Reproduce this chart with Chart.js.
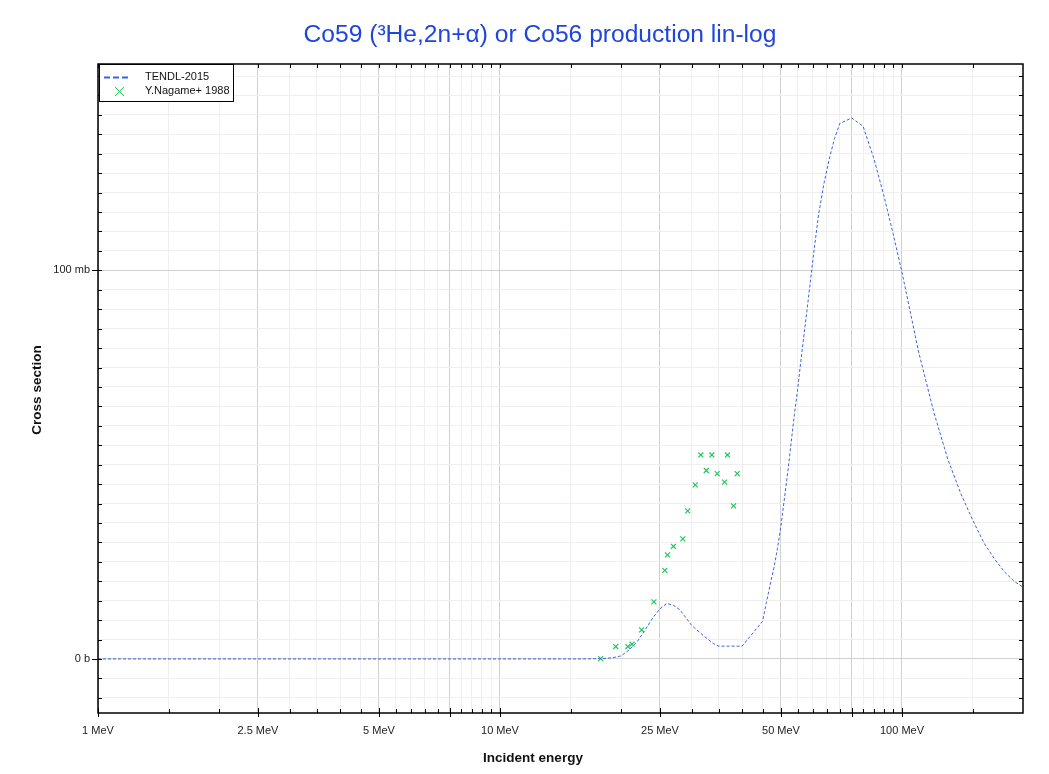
<!DOCTYPE html>
<html>
<head>
<meta charset="utf-8">
<script src="https://cdn.jsdelivr.net/npm/chart.js@4.4.0/dist/chart.umd.min.js"></script>
<style>
  body { margin: 0; background: #fff; }
  #wrap { width: 1049px; height: 774px; position: relative; }
</style>
</head>
<body>
<div id="wrap"><canvas id="xsChart"></canvas></div>
<script>
// TENDL-2015 evaluation (MeV, mb)
var tendlE = [1, 16, 18, 19, 20, 21, 22, 23, 24, 25, 26, 27, 28, 30, 32, 34, 35, 40,
  45, 46, 47, 48, 49, 50, 52, 54, 55, 56, 58, 60, 62, 64, 65, 66, 68, 70, 75, 80,
  85, 90, 95, 100, 110, 120, 130, 140, 150, 160, 170, 180, 190, 200];
var tendlXs = [0, 0, 0.1, 0.3, 0.8, 2.4, 4.6, 7.6, 10.6, 12.9, 14.3, 13.8, 12.7, 8.6, 6.1, 3.9, 3.3, 3.3,
  9.7, 14.6, 19.1, 23.4, 28.4, 34.3, 48.2, 63.0, 69.3, 76.5, 89.5, 102.5, 114.3, 122.5, 125.7, 128.9, 134.0, 137.8, 139.2, 137.1,
  129.0, 119.5, 109.5, 99.5, 79.0, 63.5, 51.4, 42.6, 35.7, 29.8, 25.7, 22.4, 20.0, 18.5];

// Y.Nagame+ 1988 measurements (MeV, mb)
var nagameE = [17.8, 19.4, 20.8, 21.3, 22.5, 24.15, 25.7, 26.1, 27.0, 28.5,
  29.3, 30.6, 31.6, 32.6, 33.65, 34.7, 36.2, 36.8, 38.1, 38.9];
var nagameXs = [0.1, 3.2, 3.2, 3.8, 7.5, 14.7, 22.8, 26.8, 29.0, 30.9,
  38.1, 44.8, 52.5, 48.5, 52.5, 47.7, 45.5, 52.5, 39.4, 47.7];

var xTickValues = [1, 1.5, 2, 2.5, 3, 3.5, 4, 4.5, 5, 5.5, 6, 6.5, 7, 7.5, 8, 8.5, 9, 9.5,
  10, 15, 20, 25, 30, 35, 40, 45, 50, 55, 60, 65, 70, 75, 80, 85, 90, 95, 100, 150];
var xMajor = [1, 2.5, 5, 7.5, 10, 25, 50, 75, 100];
var xLabels = { "1": "1 MeV", "2.5": "2.5 MeV", "5": "5 MeV", "10": "10 MeV",
  "25": "25 MeV", "50": "50 MeV", "100": "100 MeV" };

var yTickValues = [-10, -5, 0, 5, 10, 15, 20, 25, 30, 35, 40, 45, 50, 55, 60, 65, 70, 75,
  80, 85, 90, 95, 100, 105, 110, 115, 120, 125, 130, 135, 140, 145, 150];
var yMajor = [0, 100];
var yLabels = { "0": "0 b", "100": "100 mb" };

var lineColor = "#3b63e0";
var markColor = "#1fc85a";

function isIn(list, v) {
  return list.some(function (m) { return Math.abs(m - v) < 1e-6; });
}

var framePlugin = {
  id: "frame",
  afterDraw: function (chart) {
    var c = chart.ctx, a = chart.chartArea;
    var xs = chart.scales.x, ys = chart.scales.y;
    c.save();
    // ticks
    c.strokeStyle = "#000";
    c.lineWidth = 1;
    c.beginPath();
    xTickValues.forEach(function (v) {
      var px = Math.round(xs.getPixelForValue(v)) + 0.5;
      var maj = isIn(xMajor, v);
      c.moveTo(px, a.bottom + (maj ? 4 : 0));
      c.lineTo(px, a.bottom - (maj ? 5 : 4));
      c.moveTo(px, a.top);
      c.lineTo(px, a.top + 4);
    });
    yTickValues.forEach(function (v) {
      var py = Math.round(ys.getPixelForValue(v)) + 0.5;
      var maj = isIn(yMajor, v);
      c.moveTo(a.left - (maj ? 6 : 0), py);
      c.lineTo(a.left + 4, py);
      c.moveTo(a.right - 4, py);
      c.lineTo(a.right, py);
    });
    c.stroke();
    // frame
    c.lineWidth = 1.5;
    c.strokeRect(a.left, a.top, a.right - a.left, a.bottom - a.top);

    // legend box
    c.fillStyle = "#fff";
    c.fillRect(99, 64, 134, 37);
    c.lineWidth = 1;
    c.strokeStyle = "#000";
    c.strokeRect(99.5, 64.5, 134, 37);
    c.strokeStyle = lineColor;
    c.lineWidth = 2;
    c.setLineDash([6, 3]);
    c.beginPath();
    c.moveTo(104, 77.5);
    c.lineTo(131, 77.5);
    c.stroke();
    c.setLineDash([]);
    c.strokeStyle = markColor;
    c.lineWidth = 1;
    c.beginPath();
    c.moveTo(115, 87); c.lineTo(124, 96);
    c.moveTo(124, 87); c.lineTo(115, 96);
    c.stroke();
    c.fillStyle = "#111";
    c.font = "11px 'Liberation Sans', Arial, sans-serif";
    c.textBaseline = "middle";
    c.textAlign = "left";
    c.fillText("TENDL-2015", 145, 77);
    c.fillText("Y.Nagame+ 1988", 145, 91);

    // titles
    c.fillStyle = "#1f45dc";
    c.font = "24.6px 'Liberation Sans', Arial, sans-serif";
    c.textAlign = "center";
    c.fillText("Co59 (\u00b3He,2n+\u03b1) or Co56 production lin-log", 540, 35);
    c.fillStyle = "#111";
    c.font = "bold 13.5px 'Liberation Sans', Arial, sans-serif";
    c.fillText("Incident energy", 533, 758);
    c.translate(37, 390);
    c.rotate(-Math.PI / 2);
    c.fillText("Cross section", 0, 0);
    c.restore();
  }
};

new Chart(document.getElementById("xsChart").getContext("2d"), {
  type: "scatter",
  data: {
    datasets: [
      {
        label: "TENDL-2015",
        type: "line",
        data: tendlE.map(function (e, i) { return { x: e, y: tendlXs[i] }; }),
        borderColor: lineColor,
        borderWidth: 1,
        borderDash: [3, 2],
        pointRadius: 0,
        fill: false,
        tension: 0,
      },
      {
        label: "Y.Nagame+ 1988",
        data: nagameE.map(function (e, i) { return { x: e, y: nagameXs[i] }; }),
        pointStyle: "crossRot",
        pointRadius: 3.5,
        borderColor: markColor,
        borderWidth: 1.2,
        backgroundColor: markColor,
      },
    ],
  },
  options: {
    responsive: true,
    maintainAspectRatio: false,
    animation: false,
    layout: { padding: { left: 0, top: 64, right: 26, bottom: 0 } },
    plugins: { legend: { display: false }, tooltip: { enabled: false }, title: { display: false } },
    scales: {
      x: {
        type: "logarithmic",
        min: 1,
        max: 200,
        afterBuildTicks: function (s) { s.ticks = xTickValues.map(function (v) { return { value: v }; }); },
        afterFit: function (s) { s.height = 61; },
        ticks: {
          autoSkip: false,
          maxRotation: 0,
          padding: 11,
          color: "#222",
          font: { size: 11, family: "'Liberation Sans', Arial, sans-serif" },
          callback: function (v) { return xLabels[String(v)] || ""; },
        },
        grid: {
          drawTicks: false,
          color: function (ctx) { return ctx.tick && isIn(xMajor, ctx.tick.value) ? "#cfcfcf" : "#efefef"; },
        },
        border: { display: false },
      },
      y: {
        type: "linear",
        min: -13.9,
        max: 153.1,
        afterBuildTicks: function (s) { s.ticks = yTickValues.map(function (v) { return { value: v }; }); },
        afterFit: function (s) { s.width = 98; },
        ticks: {
          autoSkip: false,
          padding: 8,
          color: "#222",
          font: { size: 11, family: "'Liberation Sans', Arial, sans-serif" },
          callback: function (v) { return yLabels[String(v)] || ""; },
        },
        grid: {
          drawTicks: false,
          color: function (ctx) { return ctx.tick && isIn(yMajor, ctx.tick.value) ? "#cfcfcf" : "#efefef"; },
        },
        border: { display: false },
      },
    },
  },
  plugins: [framePlugin],
});
</script>
</body>
</html>
